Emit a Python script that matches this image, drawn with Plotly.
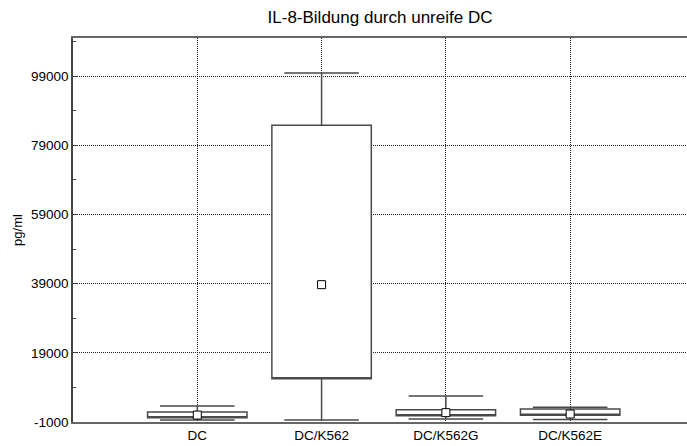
import plotly.graph_objects as go

categories = ["DC", "DC/K562", "DC/K562G", "DC/K562E"]
means = [1000, 38700, 1700, 1300]
box_low = [200, 11500, 800, 950]
box_high = [1900, 84800, 2550, 2750]
whisker_low = [-450, -400, -100, -250]
whisker_high = [3650, 99900, 6550, 3250]

y_tickvals = [-1000, 19000, 39000, 59000, 79000, 99000]
y_ticktext = ["-1000", "19000", "39000", "59000", "79000", "99000"]

fig = go.Figure()
fig.add_trace(go.Box(
    x=categories,
    q1=box_low,
    median=box_low,
    q3=box_high,
    lowerfence=whisker_low,
    upperfence=whisker_high,
    width=0.8,
    fillcolor="white",
    line=dict(color="#4a4a4a", width=1.5),
    whiskerwidth=0.75,
    boxpoints=False,
    showlegend=False,
    hoverinfo="skip",
))
fig.add_trace(go.Scatter(
    x=categories,
    y=means,
    mode="markers",
    marker=dict(symbol="square", size=8, color="white",
                line=dict(color="black", width=1)),
    showlegend=False,
))

fig.update_layout(
    width=687, height=446,
    margin=dict(l=73, r=0, t=38, b=24),
    paper_bgcolor="white",
    plot_bgcolor="white",
    font=dict(family="Liberation Sans, Arial, sans-serif", size=13, color="black"),
    title=dict(text="IL-8-Bildung durch unreife DC", x=0.5, xref="paper",
               y=0.962, yref="container", yanchor="middle",
               font=dict(size=17, color="black")),
)
fig.update_xaxes(
    type="category",
    range=[-1, 3.94],
    showgrid=True, gridcolor="#222222", griddash="1px,1px", gridwidth=1,
    showline=True, linecolor="#666666", linewidth=2, mirror=True,
    ticks="", zeroline=False,
    tickfont=dict(size=13.5),
)
fig.update_yaxes(
    range=[-1000, 110000],
    tickvals=y_tickvals, ticktext=y_ticktext,
    showgrid=True, gridcolor="#222222", griddash="1px,1px", gridwidth=1,
    showline=True, linecolor="#444444", linewidth=1.5,
    ticks="inside", ticklen=4, tickcolor="#444444",
    minor=dict(tickvals=[9000, 29000, 49000, 69000, 89000, 109000],
               ticks="inside", ticklen=3, tickcolor="#444444", showgrid=False),
    zeroline=False,
    title=dict(text="pg/ml", font=dict(size=13), standoff=5),
    tickfont=dict(size=13.5),
)

fig.write_html("out.html")
